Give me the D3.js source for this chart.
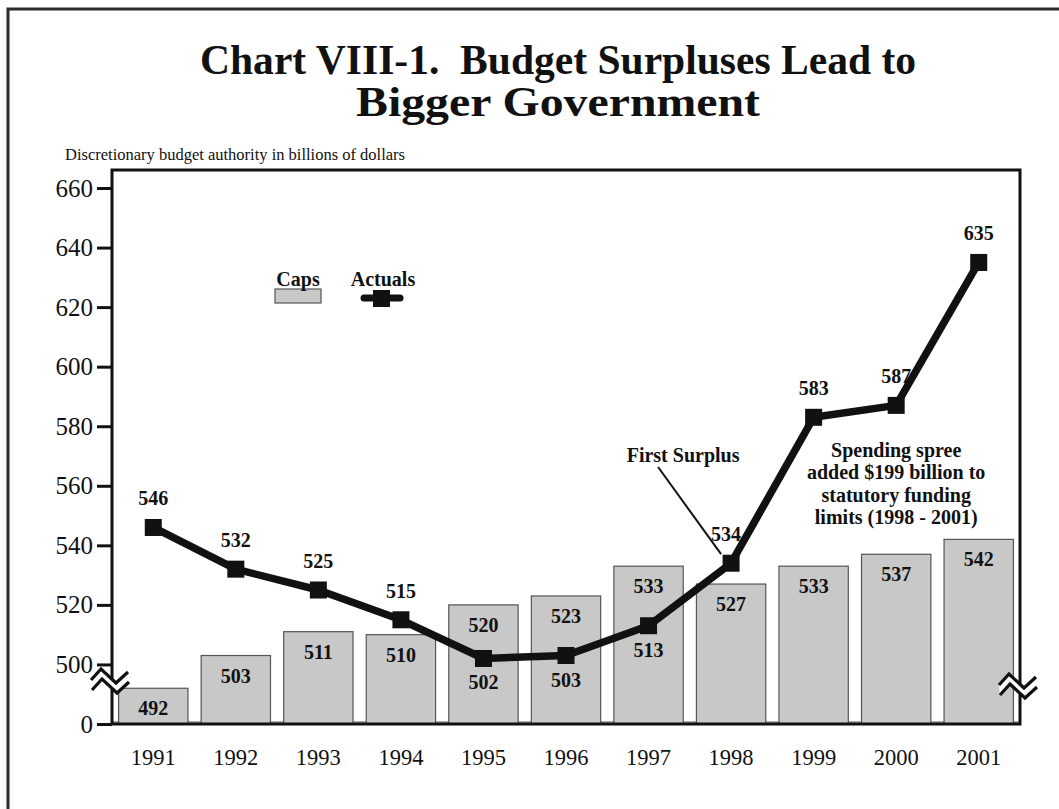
<!DOCTYPE html>
<html>
<head>
<meta charset="utf-8">
<script src="https://cdn.jsdelivr.net/npm/d3@7/dist/d3.min.js"></script>
<style>
  html, body { margin: 0; padding: 0; background: #fff; }
  svg { display: block; }
  text { font-family: "Liberation Serif", "Times New Roman", serif; fill: #111; }
</style>
</head>
<body>
<svg id="chart" width="1059" height="809"></svg>
<script>
// Discretionary budget authority, billions of dollars
const years   = ["1991","1992","1993","1994","1995","1996","1997","1998","1999","2000","2001"];
const caps    = [492, 503, 511, 510, 520, 523, 533, 527, 533, 537, 542];
const actuals = [546, 532, 525, 515, 502, 503, 513, 534, 583, 587, 635];
// Broken axis: the bottom tick stands for zero
const yTickValues = [480, 500, 520, 540, 560, 580, 600, 620, 640, 660];
const yTickLabels = ["0", "500", "520", "540", "560", "580", "600", "620", "640", "660"];
// Years whose "Actuals" label sits under the marker
const actualLabelBelow = ["1995", "1996", "1997"];

const W = 1059, H = 809;
const plot = { left: 112, top: 170, right: 1020, bottom: 724 };
const svg = d3.select("#chart");

svg.append("rect").attr("width", W).attr("height", H).attr("fill", "#fff");

// outer page frame
svg.append("path")
  .attr("d", `M8,${H} V9 H${W}`)
  .attr("fill", "none").attr("stroke", "#2b2b2b").attr("stroke-width", 3);

// title (two lines)
[
  { t: "Chart VIII-1.\u00A0 Budget Surpluses Lead to", y: 74, len: 716 },
  { t: "Bigger Government", y: 116, len: 404 }
].forEach(line => {
  svg.append("text")
    .attr("x", 558).attr("y", line.y)
    .attr("text-anchor", "middle")
    .attr("font-weight", "bold")
    .attr("font-size", 42)
    .attr("textLength", line.len)
    .attr("lengthAdjust", "spacingAndGlyphs")
    .text(line.t);
});

svg.append("text")
  .attr("x", 65).attr("y", 160)
  .attr("font-size", 16.5)
  .text("Discretionary budget authority in billions of dollars");

const x = d3.scaleBand()
  .domain(years)
  .range([plot.left, plot.right])
  .paddingInner(0.16)
  .paddingOuter(0.08);

const y = d3.scaleLinear()
  .domain([480, 666.05])
  .range([plot.bottom, plot.top]);

const cx = d => x(d) + x.bandwidth() / 2;

// floor strip under the bars
svg.append("line")
  .attr("x1", plot.left).attr("x2", plot.right)
  .attr("y1", plot.bottom - 2).attr("y2", plot.bottom - 2)
  .attr("stroke", "#aaa").attr("stroke-width", 2);

// Caps bars
svg.append("g").selectAll("rect")
  .data(years)
  .join("rect")
  .attr("x", d => x(d))
  .attr("y", (d, i) => y(caps[i]))
  .attr("width", x.bandwidth())
  .attr("height", (d, i) => y(480) - y(caps[i]))
  .attr("fill", "#c8c8c8")
  .attr("stroke", "#555")
  .attr("stroke-width", 1.2);

// plot frame
svg.append("rect")
  .attr("x", plot.left).attr("y", plot.top)
  .attr("width", plot.right - plot.left).attr("height", plot.bottom - plot.top)
  .attr("fill", "none").attr("stroke", "#111").attr("stroke-width", 3);

// y axis
const yAxis = d3.axisLeft(y)
  .tickValues(yTickValues)
  .tickSize(15)
  .tickPadding(4)
  .tickFormat((d, i) => yTickLabels[i]);
const gy = svg.append("g").attr("transform", `translate(${plot.left},0)`).call(yAxis);
gy.select(".domain").remove();
gy.selectAll(".tick line").attr("stroke", "#111").attr("stroke-width", 3);
gy.selectAll(".tick text")
  .attr("font-family", "Liberation Serif, Times New Roman, serif")
  .attr("font-size", 25).attr("fill", "#111");

// x axis
const xAxis = d3.axisBottom(x).tickSize(0).tickPadding(25);
const gx = svg.append("g").attr("transform", `translate(0,${plot.bottom})`).call(xAxis);
gx.select(".domain").remove();
gx.selectAll(".tick text")
  .attr("font-family", "Liberation Serif, Times New Roman, serif")
  .attr("font-size", 22.5).attr("fill", "#111");

// axis break symbols
function axisBreak(bx, by) {
  const upper = [[-21, -2], [-11, -13], [4, 1], [16, -10]];
  const lower = upper.map(p => [p[0] + 1, p[1] + 10]);
  const g = svg.append("g").attr("transform", `translate(${bx},${by})`);
  g.append("path")
    .attr("d", d3.line()(upper.concat(lower.slice().reverse())) + "Z")
    .attr("fill", "#fff").attr("stroke", "none");
  [upper, lower].forEach(pts => {
    g.append("path").attr("d", d3.line()(pts))
      .attr("fill", "none").attr("stroke", "#111").attr("stroke-width", 3.2)
      .attr("stroke-linejoin", "miter");
  });
}
axisBreak(plot.left, 682);
axisBreak(plot.right, 687);

// Actuals line
svg.append("path")
  .datum(years)
  .attr("d", d3.line().x(d => cx(d)).y((d, i) => y(actuals[i])))
  .attr("fill", "none")
  .attr("stroke", "#111")
  .attr("stroke-width", 7.5)
  .attr("stroke-linejoin", "round");

const M = 17;
svg.append("g").selectAll("rect")
  .data(years)
  .join("rect")
  .attr("x", d => cx(d) - M / 2)
  .attr("y", (d, i) => y(actuals[i]) - M / 2)
  .attr("width", M).attr("height", M)
  .attr("fill", "#111");

// value labels
const labelFont = 20;
svg.append("g").selectAll("text")
  .data(years)
  .join("text")
  .attr("text-anchor", "middle")
  .attr("font-weight", "bold")
  .attr("font-size", labelFont)
  .attr("x", cx)
  .attr("y", (d, i) => y(caps[i]) + 27)
  .text((d, i) => caps[i]);

svg.append("g").selectAll("text")
  .data(years)
  .join("text")
  .attr("text-anchor", "middle")
  .attr("font-weight", "bold")
  .attr("font-size", labelFont)
  .attr("x", d => cx(d) + (d === "1998" ? -5 : 0))
  .attr("y", (d, i) => actualLabelBelow.includes(d) ? y(actuals[i]) + 31 : y(actuals[i]) - 22)
  .text((d, i) => actuals[i]);

// "First Surplus" callout
const fsX = cx("1998"), fsY = y(actuals[years.indexOf("1998")]);
svg.append("text")
  .attr("x", fsX - 48).attr("y", 462)
  .attr("text-anchor", "middle")
  .attr("font-weight", "bold").attr("font-size", labelFont)
  .text("First Surplus");
svg.append("line")
  .attr("x1", fsX - 73).attr("y1", 467)
  .attr("x2", fsX - 10).attr("y2", fsY - 9)
  .attr("stroke", "#111").attr("stroke-width", 2);

// spending spree note
const note = svg.append("text")
  .attr("text-anchor", "middle")
  .attr("font-weight", "bold").attr("font-size", labelFont);
["Spending spree", "added $199 billion to", "statutory funding", "limits (1998 - 2001)"]
  .forEach((t, i) => note.append("tspan").attr("x", cx("2000")).attr("y", 457 + i * 22.3).text(t));

// legend
const leg = svg.append("g");
leg.append("rect").attr("x", 275).attr("y", 289).attr("width", 46).attr("height", 14)
  .attr("fill", "#c8c8c8").attr("stroke", "#555").attr("stroke-width", 1.2);
leg.append("text").attr("x", 298).attr("y", 286).attr("text-anchor", "middle")
  .attr("font-weight", "bold").attr("font-size", labelFont).text("Caps");
leg.append("line").attr("x1", 364).attr("x2", 400).attr("y1", 298).attr("y2", 298)
  .attr("stroke", "#111").attr("stroke-width", 7).attr("stroke-linecap", "round");
leg.append("rect").attr("x", 373).attr("y", 290).attr("width", M).attr("height", M).attr("fill", "#111");
leg.append("text").attr("x", 383).attr("y", 286).attr("text-anchor", "middle")
  .attr("font-weight", "bold").attr("font-size", labelFont).text("Actuals");
</script>
</body>
</html>
